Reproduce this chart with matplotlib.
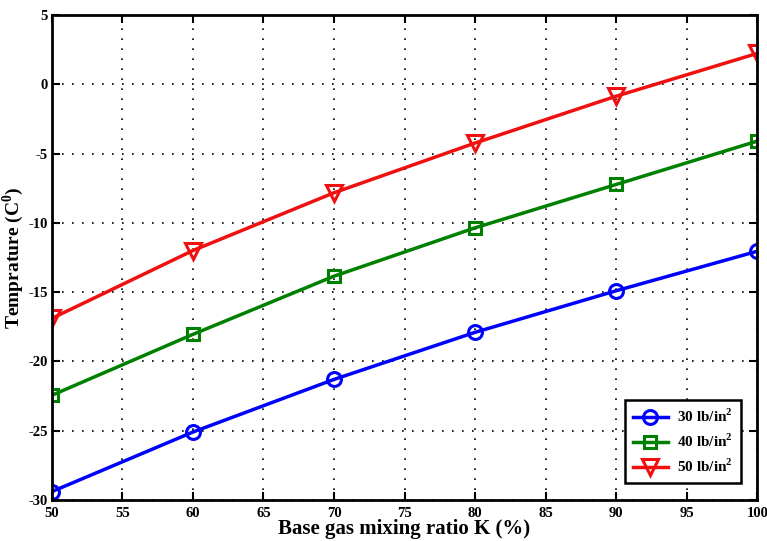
import matplotlib
matplotlib.use("Agg")
import matplotlib.pyplot as plt

# data
ratio = [50, 60, 70, 80, 90, 100]
temp_30 = [-29.4, -25.1, -21.3, -17.9, -14.9, -12.05]
temp_40 = [-22.45, -18.05, -13.85, -10.36, -7.23, -4.1]
temp_50 = [-16.9, -12.0, -7.83, -4.24, -0.86, 2.23]
labels = ['30 lb/in$^\\mathbf{2}$', '40 lb/in$^\\mathbf{2}$', '50 lb/in$^\\mathbf{2}$']

plt.rcParams['font.family'] = ['Liberation Serif', 'DejaVu Serif']
plt.rcParams['font.weight'] = 'bold'
plt.rcParams['axes.unicode_minus'] = False
plt.rcParams['mathtext.fontset'] = 'custom'
plt.rcParams['mathtext.rm'] = 'Liberation Serif:bold'
plt.rcParams['mathtext.bf'] = 'Liberation Serif:bold'

fig = plt.figure(figsize=(7.67, 5.41), dpi=100)
ax = fig.add_axes([0.0674, 0.0758, 0.92, 0.8965])

ax.plot(ratio, temp_30, '-o', color='#0000ff', lw=2.5, ms=10, mfc='none', mew=2.2, label=labels[0])
ax.plot(ratio, temp_40, '-s', color='#008000', lw=2.5, ms=8, mfc='none', mew=2.2, label=labels[1])
ax.plot(ratio, temp_50, '-v', color='#f01010', lw=2.5, ms=11, mfc='none', mew=2.2, label=labels[2])

ax.set_xlim(50, 100)
ax.set_ylim(-30, 5)
ax.set_xticks(range(50, 101, 5))
ax.set_yticks(range(-30, 6, 5))
ax.tick_params(direction='in', top=True, right=True, length=6, width=1.5, labelsize=10.5)
ax.tick_params(axis='x', pad=5)
ax.tick_params(axis='y', pad=3)
for s in ax.spines.values():
    s.set_linewidth(2)
ax.grid(True, color='black', linestyle=(0, (1, 5)), linewidth=1.2)

ax.set_xlabel('Base gas mixing ratio K (%)', fontsize=15, fontweight='bold', labelpad=-1)
ax.set_ylabel('Temprature (C$^\\mathbf{0}$)', fontsize=14, fontweight='bold')
ax.yaxis.set_label_coords(-0.037, 0.5)

leg = ax.legend(loc='lower right', bbox_to_anchor=(0.987, 0.02), fontsize=11, fancybox=False,
                framealpha=1, edgecolor='black', handlelength=2.3, borderpad=0.5, labelspacing=0.5,
                handletextpad=0.6)
leg.get_frame().set_linewidth(1.8)

fig.savefig('out.png', dpi=100)
